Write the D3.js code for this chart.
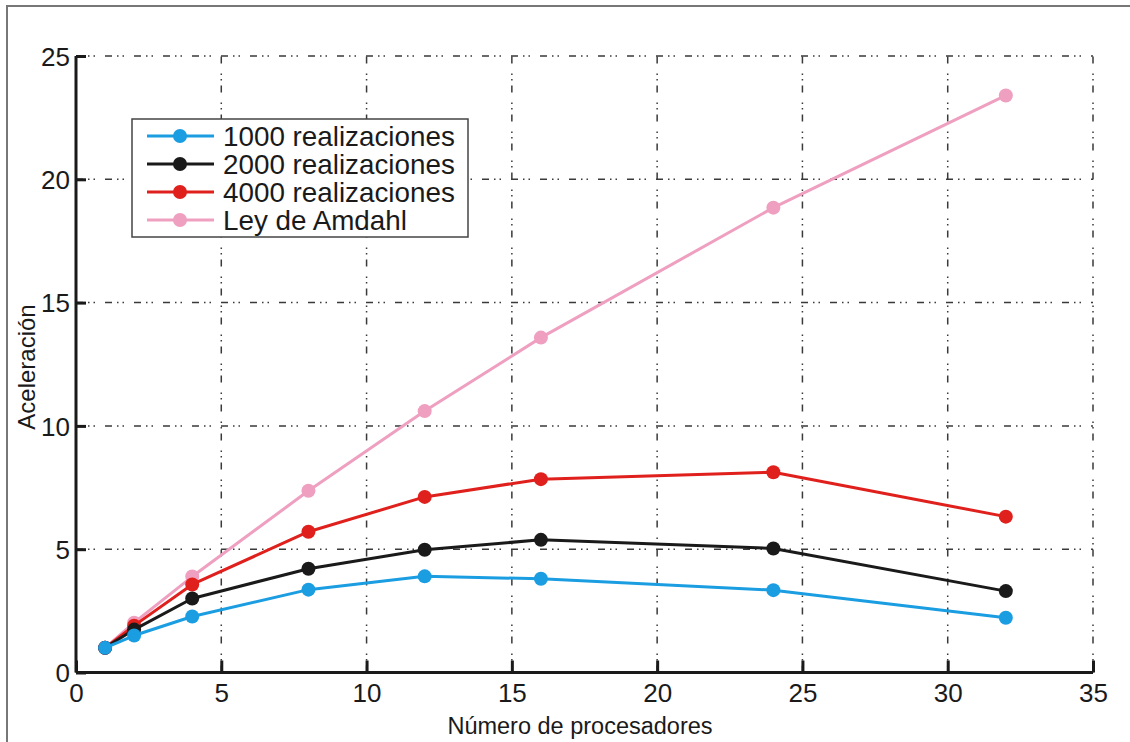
<!DOCTYPE html>
<html>
<head>
<meta charset="utf-8">
<script src="https://cdn.jsdelivr.net/npm/d3@7"></script>
<style>
  html, body { margin: 0; padding: 0; background: #fff; }
  svg { display: block; }
  text { font-family: "Liberation Sans", Arial, sans-serif; fill: #1a1a1a; }
</style>
</head>
<body>
<svg id="chart" width="1130" height="742"></svg>
<script>
// Processor counts and measured speed-up per number of realizations
const processors = [1, 2, 4, 8, 12, 16, 24, 32];
const speedup1000 = [1, 1.5, 2.27, 3.36, 3.9, 3.8, 3.34, 2.22];
const speedup2000 = [1, 1.74, 3.0, 4.21, 4.98, 5.38, 5.03, 3.3];
const speedup4000 = [1, 1.9, 3.57, 5.71, 7.12, 7.84, 8.12, 6.32];
const amdahl     = [1, 2.02, 3.89, 7.37, 10.6, 13.58, 18.85, 23.4];

const seriesNames = ["1000 realizaciones", "2000 realizaciones", "4000 realizaciones", "Ley de Amdahl"];
const seriesColors = ["#1b9de2", "#1a1a1a", "#e0201c", "#ef9fbf"];
const xTicks = [0, 5, 10, 15, 20, 25, 30, 35];
const yTicks = [0, 5, 10, 15, 20, 25];

const series = [speedup1000, speedup2000, speedup4000, amdahl].map((vals, i) => ({
  name: seriesNames[i],
  color: seriesColors[i],
  points: processors.map((p, j) => ({ x: p, y: vals[j] }))
}));

const svg = d3.select("#chart");

// outer figure frame
svg.append("rect")
  .attr("x", 7).attr("y", 6).attr("width", 1140).attr("height", 760)
  .attr("fill", "none").attr("stroke", "#777").attr("stroke-width", 2);

const plotL = 76, plotR = 1093, plotT = 56, plotB = 672.5;
const x = d3.scaleLinear().domain([0, 35]).range([plotL, plotR]);
const y = d3.scaleLinear().domain([0, 25]).range([plotB, plotT]);

// dash-dot-dot grid
const gridDash = "7,5,1.5,4,1.5,10";
const grid = svg.append("g").attr("stroke", "#3a3a3a").attr("stroke-width", 1.5)
  .attr("stroke-dasharray", gridDash).attr("fill", "none");
xTicks.filter(t => t > 0).forEach(t => {
  grid.append("line").attr("x1", x(t)).attr("x2", x(t)).attr("y1", plotB).attr("y2", plotT);
});
yTicks.filter(t => t > 0).forEach(t => {
  grid.append("line").attr("x1", plotL).attr("x2", plotR).attr("y1", y(t)).attr("y2", y(t));
});

// axes with inward ticks
const xAxis = svg.append("g").attr("transform", `translate(0,${plotB})`)
  .call(d3.axisBottom(x).tickValues(xTicks).tickSizeInner(-12).tickSizeOuter(0).tickPadding(27));
const yAxis = svg.append("g").attr("transform", `translate(${plotL},0)`)
  .call(d3.axisLeft(y).tickValues(yTicks).tickSizeInner(-10).tickSizeOuter(0).tickPadding(6));
[xAxis, yAxis].forEach(a => {
  a.attr("font-size", null).attr("font-family", null);
  a.select(".domain").attr("stroke", "#1a1a1a").attr("stroke-width", 3);
  a.selectAll(".tick line").attr("stroke", "#1a1a1a").attr("stroke-width", 3);
  a.selectAll(".tick text").style("font-size", "26px").attr("fill", "#1a1a1a")
    .style("font-family", "'Liberation Sans', Arial, sans-serif");
});
xAxis.selectAll(".tick text").attr("dy", "0.1em");
yAxis.selectAll(".tick text").attr("dy", "0.36em");
xAxis.select(".domain").attr("d", `M${plotL},0H${plotR}`);
yAxis.select(".domain").attr("d", `M0,${plotB}V${plotT}`);

// axis titles
svg.append("text").attr("x", 580).attr("y", 734).attr("text-anchor", "middle")
  .style("font-size", "23.5px").text("Número de procesadores");
svg.append("text").attr("transform", "translate(35,367) rotate(-90)")
  .attr("text-anchor", "middle").style("font-size", "24px").text("Aceleración");

// data series
const line = d3.line().x(d => x(d.x)).y(d => y(d.y));
series.slice().reverse().forEach(s => {
  const g = svg.append("g");
  g.append("path").datum(s.points).attr("d", line)
    .attr("fill", "none").attr("stroke", s.color).attr("stroke-width", 3)
    .attr("stroke-linejoin", "round");
  g.selectAll("circle").data(s.points).join("circle")
    .attr("cx", d => x(d.x)).attr("cy", d => y(d.y)).attr("r", 7)
    .attr("fill", s.color);
});

// legend
const legend = svg.append("g");
legend.append("rect").attr("x", 132).attr("y", 119).attr("width", 336).attr("height", 118)
  .attr("fill", "#fff").attr("stroke", "#444").attr("stroke-width", 1.5);
series.forEach((s, i) => {
  const ly = 136 + i * 28;
  legend.append("line").attr("x1", 147).attr("x2", 214).attr("y1", ly).attr("y2", ly)
    .attr("stroke", s.color).attr("stroke-width", 3);
  legend.append("circle").attr("cx", 180).attr("cy", ly).attr("r", 7).attr("fill", s.color);
  legend.append("text").attr("x", 223).attr("y", ly).attr("dy", "0.36em")
    .style("font-size", "27.8px").text(s.name);
});
</script>
</body>
</html>
